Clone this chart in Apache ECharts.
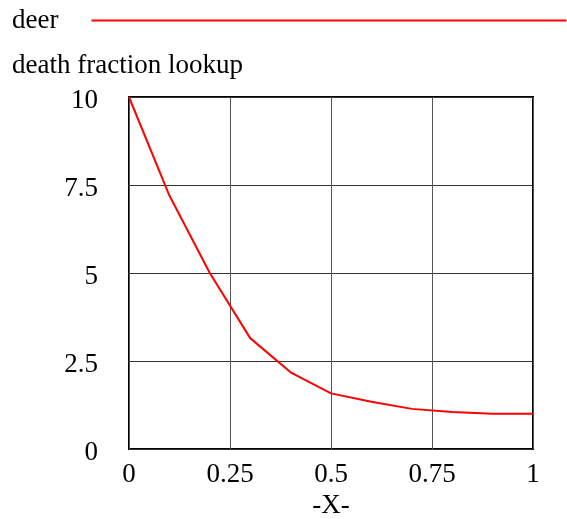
<!DOCTYPE html>
<html>
<head>
<meta charset="utf-8">
<script src="https://cdn.jsdelivr.net/npm/echarts@6/dist/echarts.min.js"></script>
<style>
  html, body { margin: 0; padding: 0; background: #fff; }
  #chart { width: 567px; height: 519px; }
</style>
</head>
<body>
<div id="chart"></div>
<script>
const xValues = [0, 0.1, 0.2, 0.3, 0.4, 0.5, 0.6, 0.7, 0.8, 0.9, 1]
const deerValues = [10, 7.2, 5, 3.15, 2.18, 1.58, 1.34, 1.14, 1.05, 1, 1]
const xTickLabels = ['0', '0.25', '0.5', '0.75', '1']
const yTickLabels = ['0', '2.5', '5', '7.5', '10']

const font = '"Liberation Serif", "Times New Roman", serif'
const fs = 27
const chart = echarts.init(document.getElementById('chart'))

chart.setOption({
  animation: false,
  title: {
    text: 'death fraction lookup',
    left: 7,
    top: 47,
    textStyle: { fontFamily: font, fontSize: fs, fontWeight: 'normal', color: '#000' }
  },
  legend: {
    left: 7,
    top: 2,
    align: 'right',
    icon: 'rect',
    itemWidth: 475,
    itemHeight: 2,
    textStyle: { fontFamily: font, fontSize: fs, color: '#000', padding: [0, 28, 0, 0] },
    data: ['deer']
  },
  grid: {
    left: 129, right: 34, top: 97, bottom: 70,
    outerBoundsMode: 'none',
    show: true, borderColor: '#000', borderWidth: 2
  },
  xAxis: {
    type: 'value',
    min: 0,
    max: 1,
    interval: 0.25,
    name: '-X-',
    nameLocation: 'middle',
    nameGap: 37,
    nameTextStyle: { fontFamily: font, fontSize: fs, color: '#000' },
    axisLine: { show: false },
    axisTick: { show: false },
    splitLine: { lineStyle: { color: '#555', width: 1 } },
    axisLabel: {
      fontFamily: font, fontSize: fs, color: '#000', margin: 12,
      formatter: v => xTickLabels[Math.round(v / 0.25)]
    }
  },
  yAxis: {
    type: 'value',
    min: 0,
    max: 10,
    interval: 2.5,
    axisLine: { show: false },
    axisTick: { show: false },
    splitLine: { lineStyle: { color: '#333', width: 1 } },
    axisLabel: {
      fontFamily: font, fontSize: fs, color: '#000', margin: 31,
      formatter: v => '{t|' + yTickLabels[Math.round(v / 2.5)] + '}',
      rich: {
        t: { fontFamily: font, fontSize: fs, color: '#000', padding: [8, 0, 0, 0] }
      }
    }
  },
  series: [{
    name: 'deer',
    type: 'line',
    data: xValues.map((x, i) => [x, deerValues[i]]),
    showSymbol: false,
    lineStyle: { color: '#ff0000', width: 2 },
    itemStyle: { color: '#ff0000' }
  }]
})
</script>
</body>
</html>
